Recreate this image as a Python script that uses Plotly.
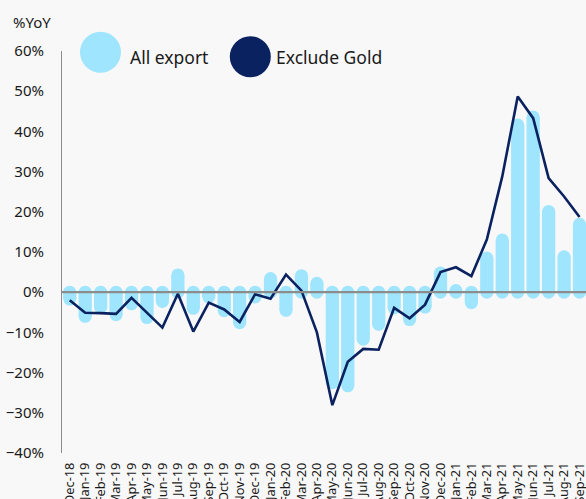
import plotly.graph_objects as go

months = ["Dec-18", "Jan-19", "Feb-19", "Mar-19", "Apr-19", "May-19", "Jun-19", "Jul-19",
          "Aug-19", "Sep-19", "Oct-19", "Nov-19", "Dec-19", "Jan-20", "Feb-20", "Mar-20",
          "Apr-20", "May-20", "Jun-20", "Jul-20", "Aug-20", "Sep-20", "Oct-20", "Nov-20",
          "Dec-20", "Jan-21", "Feb-21", "Mar-21", "Apr-21", "May-21", "Jun-21", "Jul-21",
          "Aug-21", "Sep-21"]

all_export = [-1.7, -6.0, -3.8, -5.6, -2.9, -6.3, -2.3, 4.3,
              -4.0, -1.2, -4.6, -7.6, -1.2, 3.4, -4.5, 4.1,
              2.2, -22.5, -23.3, -11.7, -8.0, -3.9, -6.8, -3.7,
              4.8, 0.4, -2.6, 8.5, 13.0, 41.6, 43.6, 20.1,
              8.8, 16.9]

exclude_gold = [-2.0, -5.1, -5.2, -5.4, -1.4, -5.1, -8.8, -0.4,
                -9.8, -2.6, -4.3, -7.4, -0.5, -1.6, 4.4, 0.4,
                -10.0, -28.1, -17.3, -14.1, -14.3, -3.9, -6.5, -3.1,
                5.0, 6.2, 4.0, 13.1, 28.8, 48.7, 43.3, 28.4,
                23.8, 18.7]

LIGHT = "#9fe5fe"
NAVY = "#0b2260"
BG = "#f8f8f8"
FONT = "Noto Sans"

fig = go.Figure()

# bars (with rounded caps at both ends)
fig.add_trace(go.Bar(x=months, y=all_export, width=0.86, marker=dict(color=LIGHT, line_width=0),
                     name="All export", showlegend=False))
fig.add_trace(go.Scatter(x=months, y=[0] * len(months), mode="markers",
                         marker=dict(color=LIGHT, size=13, line_width=0),
                         showlegend=False, hoverinfo="skip"))
fig.add_trace(go.Scatter(x=months, y=all_export, mode="markers",
                         marker=dict(color=LIGHT, size=13, line_width=0),
                         showlegend=False, hoverinfo="skip"))
fig.add_trace(go.Scatter(x=months, y=exclude_gold, mode="lines",
                         line=dict(color=NAVY, width=2.6), name="Exclude Gold", showlegend=False))

# zero line
fig.add_shape(type="line", xref="paper", x0=0, x1=1, yref="y", y0=0, y1=0,
              line=dict(color="#8c8c8c", width=2.2), layer="above")

plot_left, plot_right, plot_top, plot_bottom = 62, 586, 51, 453
pw = plot_right - plot_left
ph = plot_bottom - plot_top


def px(xp):
    return (xp - plot_left) / pw


def py(yp):
    return (plot_bottom - yp) / ph


# custom legend
for cx, cy, col in [(100.5, 52.2, LIGHT), (250.3, 56.7, NAVY)]:
    fig.add_shape(type="circle", xref="paper", yref="paper", xsizemode="pixel", ysizemode="pixel",
                  xanchor=px(cx), yanchor=py(cy), x0=-20.5, x1=20.5, y0=-20.5, y1=20.5,
                  fillcolor=col, line_width=0, layer="above")

fig.add_annotation(text="All export", xref="paper", yref="paper", x=px(128), y=py(57.5),
                   xanchor="left", yanchor="middle", showarrow=False,
                   font=dict(family=FONT, size=17.5, color="#1a1a1a"))
fig.add_annotation(text="Exclude Gold", xref="paper", yref="paper", x=px(274), y=py(57.5),
                   xanchor="left", yanchor="middle", showarrow=False,
                   font=dict(family=FONT, size=17.5, color="#1a1a1a"))
fig.add_annotation(text="%YoY", xref="paper", yref="paper", x=px(11), y=py(22),
                   xanchor="left", yanchor="middle", showarrow=False,
                   font=dict(family=FONT, size=15, color="#1a1a1a"))

fig.update_layout(
    width=586, height=499,
    margin=dict(l=plot_left, r=0, t=plot_top, b=499 - plot_bottom),
    paper_bgcolor=BG, plot_bgcolor=BG,
    barmode="overlay",
    showlegend=False,
    font=dict(family=FONT, color="#1a1a1a"),
)
fig.update_xaxes(type="category", range=[-0.5, 33.42], showgrid=False, zeroline=False,
                 showline=False, tickangle=-90, tickfont=dict(size=12.8), automargin=False,
                 tickmode="array", tickvals=months, ticktext=months,
                 ticks="", ticklabelstandoff=6)
fig.update_yaxes(range=[-40, 60], dtick=10, ticksuffix="%", showgrid=False, zeroline=False,
                 showline=True, linecolor="#8c8c8c", linewidth=1, ticks="",
                 tickfont=dict(size=15), automargin=False, ticklabelstandoff=14)

fig.write_html(
    "out.html",
    config={"displayModeBar": False},
    post_script="document.body.style.margin='0';document.body.style.overflow='hidden';"
                "document.body.style.background='" + BG + "';",
)
